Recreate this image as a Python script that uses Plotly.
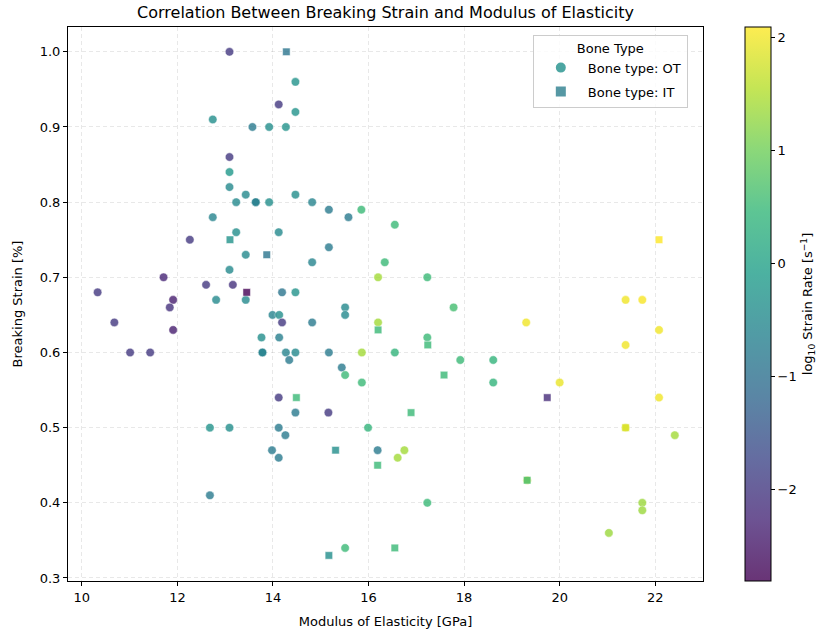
import plotly.graph_objects as go
import plotly.colors as pc

# ---------------- data ----------------
# Osteonal tissue (OT) - circles
ot_modulus = [13.09, 14.47, 14.12, 14.47, 12.74, 13.57, 13.92, 14.27, 13.09, 13.09,
              13.09, 13.43, 14.47, 13.23, 13.64, 13.64, 13.92, 14.82, 15.17, 15.85,
              12.74, 15.58, 16.55, 13.23, 14.12, 12.26, 15.17, 13.43, 14.82, 16.34,
              13.09, 11.71, 16.20, 17.23, 12.60, 13.16, 10.33, 14.19, 14.47, 11.91,
              12.81, 13.43, 11.84, 15.51, 17.78, 15.51, 13.99, 14.13, 10.68, 14.19,
              14.82, 16.20, 19.30, 11.91, 13.76, 14.13, 17.23, 11.01, 11.43, 13.78,
              13.78, 14.27, 14.47, 15.17, 15.86, 16.55, 14.34, 17.92, 18.61, 15.44,
              15.51, 15.86, 18.61, 20.00, 14.12, 14.47, 15.16, 12.68, 13.09, 14.12,
              15.99, 14.26, 13.98, 16.19, 16.75, 14.12, 16.61, 12.68, 17.23, 15.51,
              21.38, 21.73, 22.08, 21.38, 22.08, 21.38, 22.41, 19.32, 21.73, 21.73,
              21.03]
ot_strain = [1.00, 0.96, 0.93, 0.92, 0.91, 0.90, 0.90, 0.90, 0.86, 0.84,
             0.82, 0.81, 0.81, 0.80, 0.80, 0.80, 0.80, 0.80, 0.79, 0.79,
             0.78, 0.78, 0.77, 0.76, 0.76, 0.75, 0.74, 0.73, 0.72, 0.72,
             0.71, 0.70, 0.70, 0.70, 0.69, 0.69, 0.68, 0.68, 0.68, 0.67,
             0.67, 0.67, 0.66, 0.66, 0.66, 0.65, 0.65, 0.65, 0.64, 0.64,
             0.64, 0.64, 0.64, 0.63, 0.62, 0.62, 0.62, 0.60, 0.60, 0.60,
             0.60, 0.60, 0.60, 0.60, 0.60, 0.60, 0.59, 0.59, 0.59, 0.58,
             0.57, 0.56, 0.56, 0.56, 0.54, 0.52, 0.52, 0.50, 0.50, 0.50,
             0.50, 0.49, 0.47, 0.47, 0.47, 0.46, 0.46, 0.41, 0.40, 0.34,
             0.67, 0.67, 0.63, 0.61, 0.54, 0.50, 0.49, 0.43, 0.40, 0.39,
             0.36]
ot_lograte = [-2.0, -0.3, -2.0, -0.3, -0.4, -0.8, -0.4, -0.3, -2.0, -0.2,
              -0.5, -0.5, -0.4, -0.5, -0.6, -0.7, -0.4, -0.6, -0.8, 0.5,
              -0.6, -0.8, 0.5, -0.4, -0.5, -2.0, -0.8, -0.5, -0.6, 0.5,
              -0.5, -2.3, 1.4, 0.5, -2.0, -2.1, -2.0, -0.9, -0.3, -2.4,
              -0.5, -0.5, -2.1, -0.5, 0.6, -0.5, -0.6, -0.4, -2.0, -2.0,
              -0.8, 1.4, 2.0, -2.4, -0.4, -0.7, 0.5, -2.0, -2.0, -0.7,
              -0.6, -0.6, -0.5, -0.8, 1.4, 0.4, -0.8, 0.5, 0.4, -0.8,
              0.5, 0.5, 0.4, 1.95, -2.0, -0.8, -2.0, -0.3, -0.4, -0.8,
              0.4, -0.8, -0.8, -0.8, 1.4, -0.8, 1.4, -0.8, 0.5, 0.5,
              2.0, 2.05, 2.0, 2.0, 2.0, 1.9, 1.4, 1.8, 1.35, 1.35,
              1.35]

# Interstitial tissue (IT) - squares
it_modulus = [14.28, 13.10, 13.87, 13.45, 16.20, 17.24, 17.58, 14.49, 19.74, 16.89,
              15.31, 16.19, 19.32, 22.08, 21.38, 15.17, 16.55]
it_strain = [1.00, 0.75, 0.73, 0.68, 0.63, 0.61, 0.57, 0.54, 0.54, 0.52,
             0.47, 0.45, 0.43, 0.75, 0.50, 0.33, 0.34]
it_lograte = [-0.9, -0.3, -0.9, -2.81, 0.5, 0.5, 0.5, 0.5, -2.2, 0.5,
              -0.4, 0.5, 0.6, 2.09, 1.8, -0.4, 0.5]

cmin, cmax = -2.81, 2.09
x_ticks = [10, 12, 14, 16, 18, 20, 22]
y_ticks = [0.3, 0.4, 0.5, 0.6, 0.7, 0.8, 0.9, 1.0]
cb_ticks = [-2, -1, 0, 1, 2]

# ---------------- styling helpers ----------------
FONT = "DejaVu Sans"
ALPHA = 0.8


def blend(c):
    r, g, b = pc.hex_to_rgb(c) if c.startswith("#") else pc.unlabel_rgb(c)
    r, g, b = [ALPHA * v + (1 - ALPHA) * 255 for v in (r, g, b)]
    return f"rgb({r:.0f},{g:.0f},{b:.0f})"


viridis = pc.sequential.Viridis
faded_scale = [[i / (len(viridis) - 1), blend(c)] for i, c in enumerate(viridis)]

fig = go.Figure()

fig.add_trace(go.Scatter(
    x=ot_modulus, y=ot_strain, mode="markers", showlegend=False,
    marker=dict(symbol="circle", size=8.5, color=ot_lograte, colorscale="Viridis",
                cmin=cmin, cmax=cmax, opacity=ALPHA,
                line=dict(color="white", width=0.5)),
))
fig.add_trace(go.Scatter(
    x=it_modulus, y=it_strain, mode="markers", showlegend=False,
    marker=dict(symbol="square", size=7.5, color=it_lograte, colorscale="Viridis",
                cmin=cmin, cmax=cmax, opacity=ALPHA,
                line=dict(color="white", width=0.5)),
))

# legend entries
fig.add_trace(go.Scatter(
    x=[None], y=[None], mode="markers", name="Bone type: OT", legendgroup="ot",
    marker=dict(symbol="circle", size=8, color="#21918c", opacity=ALPHA,
                line=dict(color="white", width=0.5)),
))
fig.add_trace(go.Scatter(
    x=[None], y=[None], mode="markers", name="Bone type: IT", legendgroup="it",
    marker=dict(symbol="square", size=7, color="#2c7f8e", opacity=ALPHA,
                line=dict(color="white", width=0.5)),
))

# colorbar holder
fig.add_trace(go.Scatter(
    x=[None], y=[None], mode="markers", showlegend=False, hoverinfo="skip",
    marker=dict(color=[cmin, cmax], cmin=cmin, cmax=cmax, colorscale=faded_scale,
                showscale=True,
                colorbar=dict(
                    x=(745 - 68) / 635, xanchor="left", xref="paper", xpad=0, ypad=0,
                    y=0.5, yanchor="middle", len=1.0, lenmode="fraction",
                    thickness=26, thicknessmode="pixels",
                    outlinecolor="black", outlinewidth=1,
                    tickmode="array", tickvals=cb_ticks,
                    ticks="outside", ticklen=4, tickcolor="black",
                    tickfont=dict(family=FONT, size=13, color="black"),
                    title=dict(text="log<sub>10</sub> Strain Rate [s<sup>−1</sup>]",
                               side="right",
                               font=dict(family=FONT, size=13, color="black")),
                )),
))

axis_common = dict(
    showline=True, linecolor="black", linewidth=1, mirror=True,
    ticks="outside", ticklen=4, tickcolor="black",
    showgrid=True, gridcolor="rgba(0,0,0,0.09)", griddash="4px,3px", gridwidth=1,
    zeroline=False,
    tickfont=dict(family=FONT, size=13, color="black"),
)

fig.update_xaxes(range=[9.71, 23.0], tickvals=x_ticks, **axis_common,
                 title=dict(text="Modulus of Elasticity [GPa]", standoff=13,
                            font=dict(family=FONT, size=13, color="black")))
fig.update_yaxes(range=[0.296, 1.033], tickvals=y_ticks, tickformat=".1f", **axis_common,
                 title=dict(text="Breaking Strain [%]", standoff=14,
                            font=dict(family=FONT, size=13, color="black")))

fig.update_layout(
    width=831, height=639,
    margin=dict(l=68, r=128, t=27, b=54),
    paper_bgcolor="white", plot_bgcolor="white",
    font=dict(family=FONT, size=13, color="black"),
    title=dict(text="Correlation Between Breaking Strain and Modulus of Elasticity",
               x=(68 + 703) / 2 / 831, xanchor="center", y=1 - 12 / 639, yanchor="middle",
               font=dict(family=FONT, size=16, color="black")),
    legend=dict(
        x=0.732, y=0.986, xanchor="left", yanchor="top",
        bgcolor="rgba(255,255,255,0.8)", bordercolor="#cccccc", borderwidth=1,
        font=dict(family=FONT, size=13, color="black"),
        title=dict(text="Bone Type", side="top center",
                   font=dict(family=FONT, size=13, color="black")),
        itemsizing="constant", itemwidth=44,
        traceorder="grouped", tracegroupgap=4,
    ),
)

fig.write_html("out.html")
